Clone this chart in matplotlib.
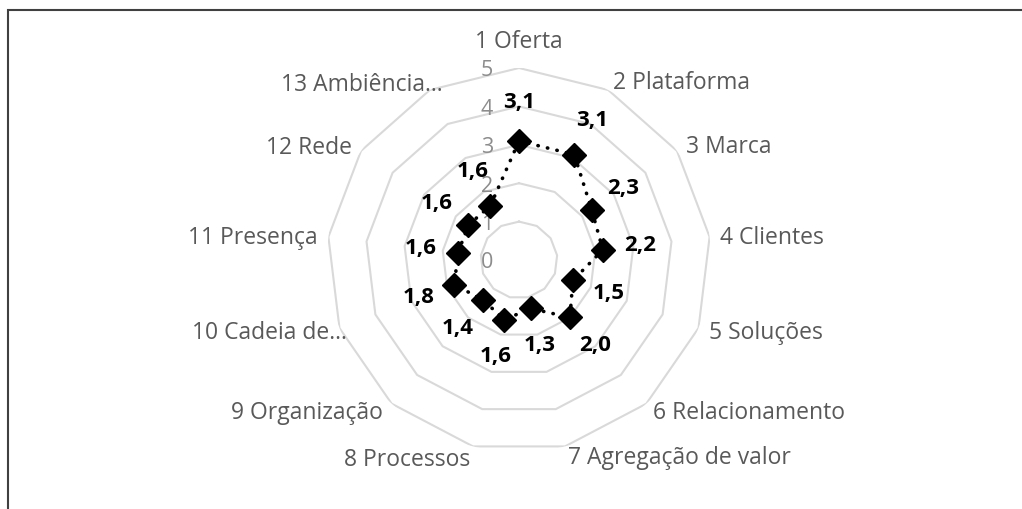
import numpy as np
import matplotlib
matplotlib.use("Agg")
import matplotlib.pyplot as plt
from matplotlib.patches import Rectangle

categories = ["1 Oferta", "2 Plataforma", "3 Marca", "4 Clientes", "5 Soluções",
              "6 Relacionamento", "7 Agregação de valor", "8 Processos",
              "9 Organização", "10 Cadeia de...", "11 Presença", "12 Rede",
              "13 Ambiência..."]
values = [3.1, 3.1, 2.3, 2.2, 1.5, 2.0, 1.3, 1.6, 1.4, 1.8, 1.6, 1.6, 1.6]
value_labels = ["3,1", "3,1", "2,3", "2,2", "1,5", "2,0", "1,3", "1,6",
                "1,4", "1,8", "1,6", "1,6", "1,6"]
rings = [1, 2, 3, 4, 5]
tick_labels = ["0", "1", "2", "3", "4", "5"]

# layout: pixel offsets and alignment of category labels from the outer vertex
cat_layout = [
    ((0, 26), "center"), ((5, 7), "left"), ((9, 4), "left"), ((10, -1), "left"),
    ((10, -5), "left"), ((7, -9), "left"), ((3, -12), "left"), ((-3, -14), "right"),
    ((-9, -9), "right"), ((7, -5), "right"), ((-11, -1), "right"), ((-9, 3), "right"),
    ((13, 5), "right"),
]

plt.rcParams["font.family"] = ["Open Sans", "DejaVu Sans"]

W, H = 1022, 509
fig = plt.figure(figsize=(W / 100, H / 100), dpi=100)
fig.patch.set_facecolor("white")

cx, cy, R = 519, 260, 192
ax = fig.add_axes([(cx - R) / W, (H - cy - R) / H, 2 * R / W, 2 * R / H],
                  projection="polar")
ax.set_theta_zero_location("N")
ax.set_theta_direction(-1)
ax.set_ylim(0, 5)
ax.grid(False)
ax.spines["polar"].set_visible(False)
ax.set_xticks([])
ax.set_yticks([])
ax.patch.set_alpha(0)

n = len(categories)
theta = np.arange(n) * 2 * np.pi / n
theta_closed = np.append(theta, theta[0])

# polygon grid rings
for r in rings:
    ax.plot(theta_closed, [r] * (n + 1), color="#d9d9d9", lw=1.5, zorder=1)

# tick labels on the vertical axis
for t in tick_labels:
    ax.annotate(t, xy=(0, float(t)), xytext=(-26, -3), textcoords="offset pixels",
                ha="right", va="center", fontsize=15.5, color="#8c8c8c",
                annotation_clip=False, zorder=2)

# data series
vals_closed = np.append(values, values[0])
ax.plot(theta_closed, vals_closed, color="black", lw=2.6,
        linestyle=(0, (0.1, 2.6)), dash_capstyle="round", zorder=3)
ax.plot(theta, values, linestyle="none", marker="D", markersize=12,
        color="black", zorder=4)

# data labels, radially outward
for th, v, lab in zip(theta, values, value_labels):
    dx = 38 * np.sin(th)
    dy = 38 * np.cos(th)
    ax.annotate(lab, xy=(th, v), xytext=(dx, dy), textcoords="offset pixels",
                ha="center", va="center", fontsize=16, fontweight="bold",
                color="black", annotation_clip=False, zorder=5)

# category labels
for th, cat, ((ox, oy), ha) in zip(theta, categories, cat_layout):
    ax.annotate(cat, xy=(th, 5), xytext=(ox, oy), textcoords="offset pixels",
                ha=ha, va="center", fontsize=16.5, color="#595959",
                annotation_clip=False)

# chart border (extends past right and bottom edges)
fig.patches.append(Rectangle((8 / W, -0.1), 1.2, 1 - 10 / H + 0.1,
                             transform=fig.transFigure, fill=False,
                             edgecolor="#404040", lw=1.5))

fig.savefig("out.png", dpi=100)
